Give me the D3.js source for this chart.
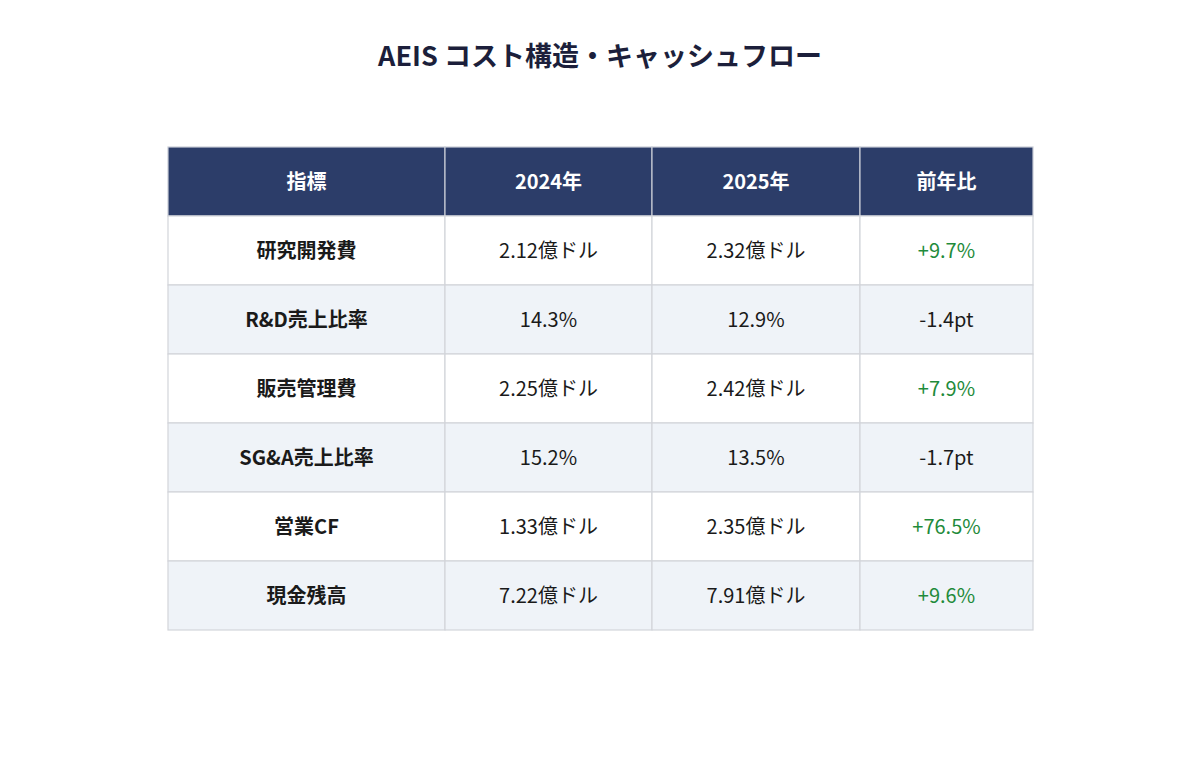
<!DOCTYPE html>
<html><head><meta charset="utf-8">
<script src="https://cdn.jsdelivr.net/npm/d3@7"></script>
<style>body{margin:0;background:#fff;font-family:"Noto Sans CJK JP","Noto Sans",sans-serif;}</style>
</head><body><svg id="c" width="1200" height="777"></svg>
<script>
const title = "AEIS コスト構造・キャッシュフロー";
const headers = ["指標","2024年","2025年","前年比"];
const metrics = ["研究開発費","R&D売上比率","販売管理費","SG&A売上比率","営業CF","現金残高"];
const y2024 = ["2.12億ドル","14.3%","2.25億ドル","15.2%","1.33億ドル","7.22億ドル"];
const y2025 = ["2.32億ドル","12.9%","2.42億ドル","13.5%","2.35億ドル","7.91億ドル"];
const yoy = ["+9.7%","-1.4pt","+7.9%","-1.7pt","+76.5%","+9.6%"];

const svg = d3.select("#c");
svg.append("text").attr("x",600).attr("y",66).attr("text-anchor","middle")
  .attr("font-size",27).attr("font-weight",700).attr("fill","#1c1f3b").text(title);

const colEdges = [168,445,652,860,1033];
const rowsIdx = d3.range(metrics.length+1);
const y = d3.scaleBand().domain(rowsIdx).range([147,630]);
const g = svg.append("g");
rowsIdx.forEach(r=>{
  const cells = r===0 ? headers : [metrics[r-1],y2024[r-1],y2025[r-1],yoy[r-1]];
  cells.forEach((t,c)=>{
    const x0=colEdges[c], x1=colEdges[c+1];
    const fill = r===0 ? "#2c3d69" : (r%2===0 ? "#eff3f8" : "#ffffff");
    g.append("rect").attr("x",x0).attr("y",y(r)).attr("width",x1-x0).attr("height",y.bandwidth())
      .attr("fill",fill).attr("stroke",r===0?"#c8ccd6":"#d2d5da").attr("stroke-width",1.2);
    let color="#1a1a1a", weight=400;
    if(r===0){color="#ffffff";weight=700;}
    else if(c===0){weight=700;}
    else if(c===3 && t.startsWith("+")){color="#1f8b3b";}
    g.append("text").attr("x",(x0+x1)/2).attr("y",y(r)+y.bandwidth()/2)
      .attr("dy","0.35em").attr("text-anchor","middle").attr("font-size",20)
      .attr("font-weight",weight).attr("fill",color).text(t);
  });
});
</script></body></html>
